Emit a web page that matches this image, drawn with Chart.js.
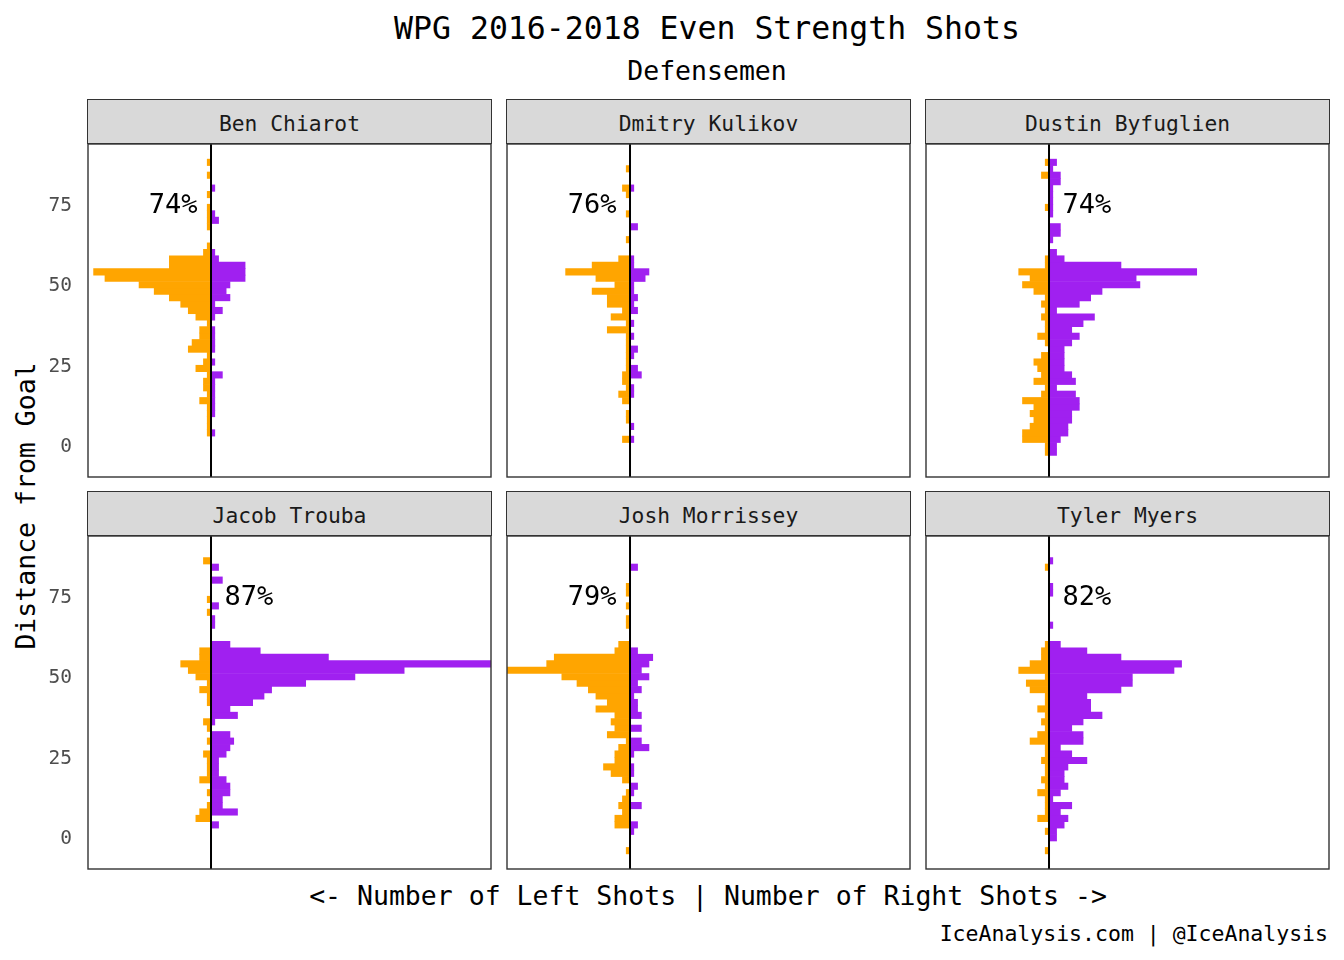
<!DOCTYPE html>
<html><head><meta charset="utf-8">
<script src="https://cdn.jsdelivr.net/npm/chart.js@4.4.1/dist/chart.umd.min.js"></script>
<style>
body{margin:0;background:#fff;width:1344px;height:960px;position:relative;overflow:hidden;font-family:'DejaVu Sans Mono',monospace;}
.t{position:absolute;white-space:nowrap;color:#000;text-align:center;}
.strip{position:absolute;box-sizing:border-box;height:45px;width:405px;background:#d9d9d9;border:1.4px solid #333;color:#1a1a1a;font-size:21.3px;text-align:center;line-height:42px;padding-top:3.3px;white-space:nowrap;overflow:visible;}
canvas{position:absolute;}
</style></head><body>
<div class="t" style="left:0;width:1414px;top:7.5px;font-size:31.5px;line-height:40px;">WPG 2016-2018 Even Strength Shots</div>
<div class="t" style="left:0;width:1414px;top:53.5px;font-size:26.5px;line-height:34px;">Defensemen</div>
<div class="t" style="left:0;width:1416px;top:878.5px;font-size:26.5px;line-height:34px;">&lt;- Number of Left Shots | Number of Right Shots -&gt;</div>
<div class="t" style="right:16px;top:920.4px;font-size:21.5px;line-height:28px;text-align:right;">IceAnalysis.com | @IceAnalysis</div>
<div class="t" style="left:-174px;width:400px;top:489px;font-size:26.5px;line-height:34px;transform:rotate(-90deg);">Distance from Goal</div>
<script>
// ---- data ----
const playerNames = ['Ben Chiarot','Dmitry Kulikov','Dustin Byfuglien','Jacob Trouba','Josh Morrissey','Tyler Myers'];
const pctLabels = ['74%','76%','74%','87%','79%','82%'];
const labelSide = [-1,-1,1,1,-1,1];
const yTicks = [0,25,50,75];
// distance-from-goal bin centres (2 ft bins), bottom to top
const distanceBins = [-3.6,-1.6,0.4,2.4,4.4,6.4,8.4,10.4,12.4,14.4,16.4,18.4,20.4,22.4,24.4,26.4,28.4,30.4,32.4,34.4,36.4,38.4,40.4,42.4,44.4,46.4,48.4,50.4,52.4,54.4,56.4,58.4,60.4,62.4,64.4,66.4,68.4,70.4,72.4,74.4,76.4,78.4,80.4,82.4,84.4,86.4,88.4];
// shot counts per bin (left side / right side)
const chiarotLeft   = [0,0,0,0,1,1,1,1,1,3, 1,2,2,1,4,2,1,6,5,3, 3,1,4,6,8,11,15,19,28,31, 11,11,2,1,0,0,1,1,1,1, 0,1,0,0,1,0,1];
const chiarotRight  = [0,0,0,0,1,0,0,1,1,1, 1,1,1,3,0,1,0,1,1,1, 1,0,1,3,1,5,4,5,9,9, 9,2,1,0,0,0,0,2,1,0, 0,0,1,0,0,0,0];
const kulikovLeft   = [0,0,0,2,0,0,1,1,0,2, 3,1,2,2,1,1,1,1,1,1, 6,1,5,2,6,6,10,4,9,17, 10,3,0,0,1,0,0,0,1,0, 0,1,2,0,0,1,0];
const kulikovRight  = [0,0,0,1,0,1,0,0,0,0, 1,1,0,3,2,0,1,2,0,1, 0,1,0,2,1,2,1,1,4,5, 1,1,0,0,0,0,2,0,0,0, 0,0,1,0,0,0,0];
const byfuglienLeft = [0,1,1,7,7,5,4,5,4,7, 2,1,4,2,3,4,2,0,1,3, 1,1,2,1,2,1,4,7,5,8, 1,1,0,0,0,0,0,0,0,1, 0,0,0,0,2,0,1];
const byfuglienRight= [0,2,2,3,5,5,6,6,8,8, 7,2,7,6,4,4,4,4,6,8, 6,9,12,2,8,11,14,24,23,39, 19,4,2,0,1,3,3,0,1,1, 1,1,1,3,3,1,2];
const troubaLeft    = [0,0,0,0,0,4,3,1,0,1, 0,3,1,1,1,2,0,1,0,1, 2,0,0,1,1,3,1,4,6,8, 3,3,0,0,0,0,0,1,0,1, 0,0,0,0,0,2,0];
const troubaRight   = [0,0,0,0,2,0,7,3,3,5, 5,4,2,2,2,4,5,6,5,0, 1,7,5,11,14,16,25,38,51,74, 31,13,5,0,0,1,1,0,2,0, 0,0,3,0,2,0,0];
const morrisseyLeft = [1,0,0,0,4,4,2,3,2,1, 0,2,5,7,4,4,3,1,6,4, 5,4,9,6,9,11,14,18,33,22, 20,4,3,0,0,1,1,0,1,0, 1,1,0,0,0,0,0];
const morrisseyRight= [0,0,0,1,2,0,0,3,0,1, 2,0,1,1,0,1,5,3,0,3, 0,3,2,2,1,3,2,5,3,5, 6,2,0,0,0,0,0,0,0,0, 0,0,0,0,2,0,0];
const myersLeft     = [1,0,0,1,0,3,1,1,1,3, 1,2,1,1,2,1,1,5,3,1, 2,1,3,1,1,5,6,1,8,5, 2,2,1,0,0,0,0,0,0,0, 0,0,0,0,1,0,0];
const myersRight    = [0,0,2,2,4,5,3,6,1,3, 5,4,4,5,10,6,3,9,9,6, 9,14,11,11,10,19,22,22,33,35, 19,10,3,0,0,1,0,0,0,0, 1,1,0,0,0,1,0];
const leftShots  = [chiarotLeft, kulikovLeft, byfuglienLeft, troubaLeft, morrisseyLeft, myersLeft];
const rightShots = [chiarotRight, kulikovRight, byfuglienRight, troubaRight, morrisseyRight, myersRight];

// ---- layout / style ----
const X_MIN = -32.48, X_MAX = 73.93, Y_MIN = -9.3, Y_MAX = 94.1;
const LABEL_X = 10, LABEL_Y = 75;
const ORANGE = '#FFA500', PURPLE = '#A020F0';
const colLeft = [88, 507, 926], rowTop = [144, 536];
const PANEL_W = 403, PANEL_H = 333;

const panelDecor = {
  id: 'panelDecor',
  afterDatasetsDraw(chart, args, opts) {
    const {ctx, chartArea: a, scales: {x, y}} = chart;
    ctx.save();
    const x0 = x.getPixelForValue(0);
    ctx.strokeStyle = '#000'; ctx.lineWidth = 2;
    ctx.beginPath(); ctx.moveTo(x0, a.top); ctx.lineTo(x0, a.bottom); ctx.stroke();
    ctx.font = '27px "DejaVu Sans Mono"'; ctx.fillStyle = '#000';
    ctx.textAlign = 'center'; ctx.textBaseline = 'middle';
    ctx.fillText(opts.label, x.getPixelForValue(opts.labelX), y.getPixelForValue(opts.labelY));
    ctx.strokeStyle = '#333'; ctx.lineWidth = 1.4;
    ctx.strokeRect(a.left, a.top, a.right - a.left, a.bottom - a.top);
    ctx.restore();
  }
};

playerNames.forEach((name, i) => {
  const col = i % 3, row = Math.floor(i / 3);
  const strip = document.createElement('div');
  strip.className = 'strip';
  strip.style.left = (colLeft[col] - 1) + 'px';
  strip.style.top = (rowTop[row] - 45) + 'px';
  strip.textContent = name;
  document.body.appendChild(strip);

  const cv = document.createElement('canvas');
  const isFirst = col === 0;
  const cLeft = isFirst ? 0 : colLeft[col] - 2;
  const cW = isFirst ? colLeft[0] + PANEL_W + 2 : PANEL_W + 4;
  const cH = PANEL_H + 4;
  cv.width = cW; cv.height = cH;
  cv.style.left = cLeft + 'px'; cv.style.top = (rowTop[row] - 2) + 'px';
  cv.style.width = cW + 'px'; cv.style.height = cH + 'px';
  document.body.appendChild(cv);

  const yScale = {
    type: 'linear', min: Y_MIN, max: Y_MAX, display: isFirst, offset: false,
    afterBuildTicks: s => { s.ticks = yTicks.map(v => ({value: v})); },
    grid: {display: false, drawTicks: false, offset: false}, border: {display: false},
    ticks: {padding: 16, color: '#4d4d4d', font: {family: 'DejaVu Sans Mono', size: 19.5}}
  };
  if (isFirst) yScale.afterFit = s => { s.width = colLeft[0]; s.paddingTop = 0; s.paddingBottom = 0; };

  new Chart(cv, {
    type: 'bar',
    data: {
      datasets: [
        {data: distanceBins.map((d, k) => ({x: -leftShots[i][k], y: d})), backgroundColor: ORANGE},
        {data: distanceBins.map((d, k) => ({x: rightShots[i][k], y: d})), backgroundColor: PURPLE}
      ]
    },
    options: {
      responsive: false, animation: false, events: [],
      indexAxis: 'y',
      datasets: {bar: {grouped: false, barPercentage: 1, categoryPercentage: 1, borderWidth: 0, clip: 0}},
      layout: {padding: {left: isFirst ? 0 : 2, right: 2, top: 2, bottom: 2}},
      plugins: {
        legend: {display: false}, tooltip: {enabled: false},
        panelDecor: {label: pctLabels[i], labelX: labelSide[i] * LABEL_X, labelY: LABEL_Y}
      },
      scales: {
        x: {type: 'linear', min: X_MIN, max: X_MAX, display: false},
        y: yScale
      }
    },
    plugins: [panelDecor]
  });
});
</script>
</body></html>
